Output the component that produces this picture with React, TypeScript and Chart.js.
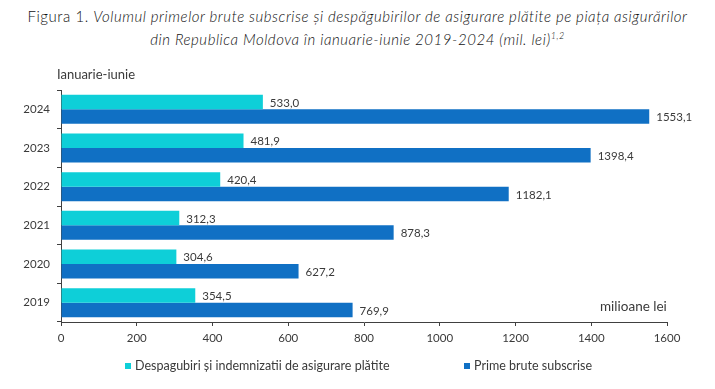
import React, { useEffect, useRef } from "react";
import { Chart, registerables } from "chart.js";

Chart.register(...registerables);

const years = ["2024", "2023", "2022", "2021", "2020", "2019"];
const claims = [533.0, 481.9, 420.4, 312.3, 304.6, 354.5];
const premiums = [1553.1, 1398.4, 1182.1, 878.3, 627.2, 769.9];
const seriesNames = [
  "Despagubiri și indemnizatii de asigurare plătite",
  "Prime brute subscrise",
];
const axisMin = 0;
const axisMax = 1600;
const axisStep = 200;

const CYAN = "#0ecfd8";
const BLUE = "#1070c4";
const TEXT = "#3a3a3a";
const AXIS = "#404040";
const FONT = "Lato, 'Open Sans', sans-serif";

const fmt = (v: number) => v.toFixed(1).replace(".", ",");

const labelPlugin = {
  id: "valueLabels",
  afterDatasetsDraw(chart: any) {
    const ctx = chart.ctx;
    ctx.save();
    ctx.font = `11.5px ${FONT}`;
    ctx.fillStyle = TEXT;
    ctx.textAlign = "left";
    ctx.textBaseline = "middle";
    chart.data.datasets.forEach((ds: any, di: number) => {
      const meta = chart.getDatasetMeta(di);
      meta.data.forEach((el: any, i: number) => {
        ctx.fillText(fmt(ds.data[i]), el.x + 7, el.y + 1);
      });
    });
    ctx.restore();
  },
};

export default function App() {
  const ref = useRef<HTMLCanvasElement | null>(null);
  useEffect(() => {
    if (!ref.current) return;
    const chart = new Chart(ref.current, {
      type: "bar",
      data: {
        labels: years,
        datasets: [
          { label: seriesNames[0], data: claims, backgroundColor: CYAN },
          { label: seriesNames[1], data: premiums, backgroundColor: BLUE },
        ],
      },
      options: {
        indexAxis: "y",
        animation: false,
        responsive: false,
        maintainAspectRatio: false,
        devicePixelRatio: 1,
        layout: { padding: { top: 90, right: 48, bottom: 37, left: 0 } },
        datasets: { bar: { categoryPercentage: 0.75, barPercentage: 1 } },
        plugins: {
          legend: { display: false },
          title: { display: false },
          tooltip: { enabled: false },
        },
        scales: {
          x: {
            min: axisMin,
            max: axisMax,
            ticks: {
              stepSize: axisStep,
              color: TEXT,
              font: { size: 11.5, family: FONT },
              padding: 5,
              callback: (v: any) => String(v),
            },
            grid: { drawOnChartArea: false, tickLength: 4, color: AXIS },
            border: { color: AXIS },
            afterFit: (s: any) => { s.height = 30; },
          },
          y: {
            ticks: { color: TEXT, font: { size: 11.5, family: FONT }, padding: 7 },
            grid: { drawOnChartArea: false, tickLength: 4, color: AXIS, offset: true },
            border: { color: AXIS },
            afterFit: (s: any) => { s.width = 61; },
          },
        },
      },
      plugins: [labelPlugin],
    } as any);
    return () => chart.destroy();
  }, []);

  return (
    <div style={{ position: "fixed", left: 0, top: 0, width: 715, height: 389, background: "#fff", fontFamily: FONT, color: TEXT }}>
      <div style={{ position: "absolute", left: 0, top: 5, width: 715, textAlign: "center", fontSize: 15, lineHeight: "23px", letterSpacing: "0.55px", fontWeight: 300, color: "#111" }}>
        <div>
          Figura 1.{" "}
          <i>Volumul primelor brute subscrise și despăgubirilor de asigurare plătite pe piața asigurărilor</i>
        </div>
        <div>
          <i>
            din Republica Moldova în ianuarie-iunie 2019-2024 (mil. lei)<sup style={{ fontSize: 9, lineHeight: 0 }}>1,2</sup>
          </i>
        </div>
      </div>
      <canvas ref={ref} width={715} height={389} style={{ position: "absolute", left: 0, top: 0, width: 715, height: 389 }} />
      <div style={{ position: "absolute", left: 57, top: 66, fontSize: 13 }}>Ianuarie-iunie</div>
      <div style={{ position: "absolute", left: 600, top: 298, fontSize: 13.5 }}>milioane lei</div>
      <div style={{ position: "absolute", left: 125, top: 358, fontSize: 12.5, display: "flex", alignItems: "center" }}>
        <span style={{ display: "inline-block", width: 6, height: 6, background: CYAN, marginRight: 4 }} />
        {seriesNames[0]}
      </div>
      <div style={{ position: "absolute", left: 464, top: 358, fontSize: 12.5, display: "flex", alignItems: "center" }}>
        <span style={{ display: "inline-block", width: 6, height: 6, background: BLUE, marginRight: 4 }} />
        {seriesNames[1]}
      </div>
    </div>
  );
}
